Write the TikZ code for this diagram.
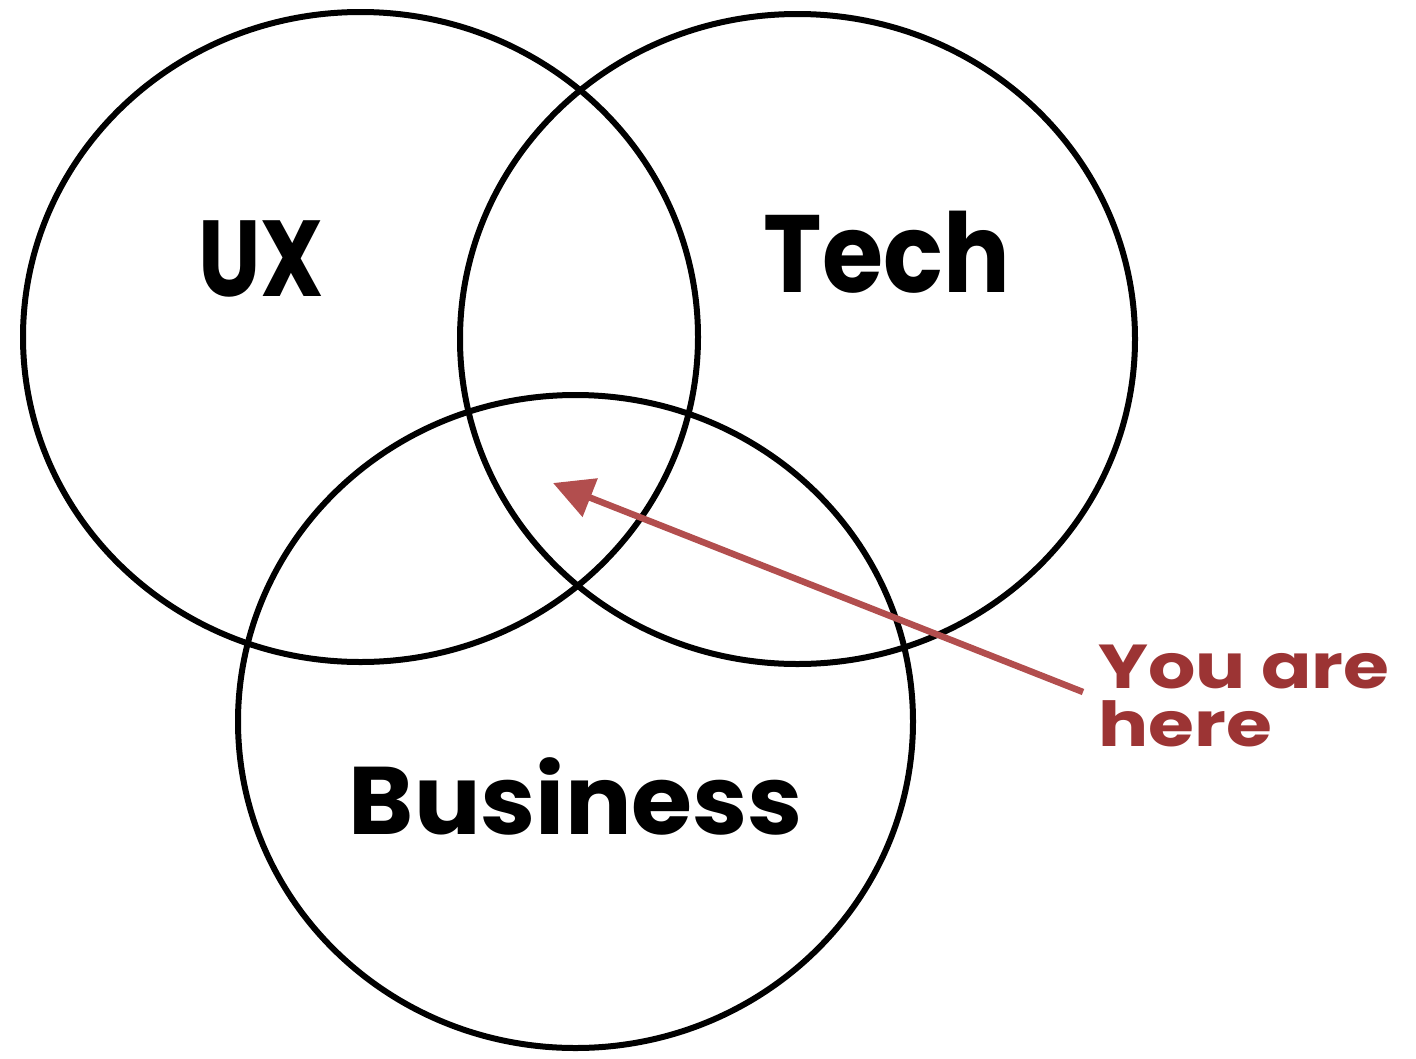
\documentclass[tikz,border=0pt]{standalone}
\usepackage{fontspec}
\setmainfont{Poppins}[FakeStretch=0.82]
\newfontfamily\techfont{Poppins}[FakeStretch=0.9]
\newfontfamily\bizfont{Poppins}[FakeStretch=1.03]
\newfontfamily\herefont{Poppins}[FakeStretch=1.2]
\usetikzlibrary{shapes.geometric,arrows.meta}
\definecolor{herered}{HTML}{9C3434}
\definecolor{arrowred}{HTML}{B24E4E}
\tikzset{
  venn/.style={ellipse, draw=black, line width=6pt, inner sep=0pt,
    minimum width=675pt, minimum height=650pt},
  biglabel/.style={anchor=base, text=black, font=\bfseries\fontsize{108}{110}\selectfont, inner sep=0pt},
  herelabel/.style={anchor=base west, text=herered, font=\herefont\bfseries\fontsize{62}{64}\selectfont, inner sep=0pt},
  pointer/.style={draw=arrowred, line width=6.5pt, -{Triangle[length=40pt,width=40pt]}}
}
\begin{document}
\begin{tikzpicture}[x=1pt,y=-1pt]
\useasboundingbox (0,0) rectangle (1416,1058);
\node[venn] (ux) at (360.5,337) {};
\node[venn] (tech) at (797.5,339) {};
\node[venn, minimum height=653pt] (biz) at (575.5,721.5) {};
\node[biglabel] (uxl) at (261,296) {UX};
\node[biglabel, font=\techfont\bfseries\fontsize{110}{112}\selectfont] (techl) at (887,292) {Tech};
\node[biglabel, font=\bizfont\bfseries\fontsize{96}{98}\selectfont] (bizl) at (576,834) {Business};
\node[herelabel] (you) at (1098,688) {You are};
\node[herelabel] (here) at (1098,746) {here};
\coordinate (tail) at (1083,692);
\coordinate (tip) at (553,483);
\draw[pointer] (tail) -- (tip);
\end{tikzpicture}
\end{document}
